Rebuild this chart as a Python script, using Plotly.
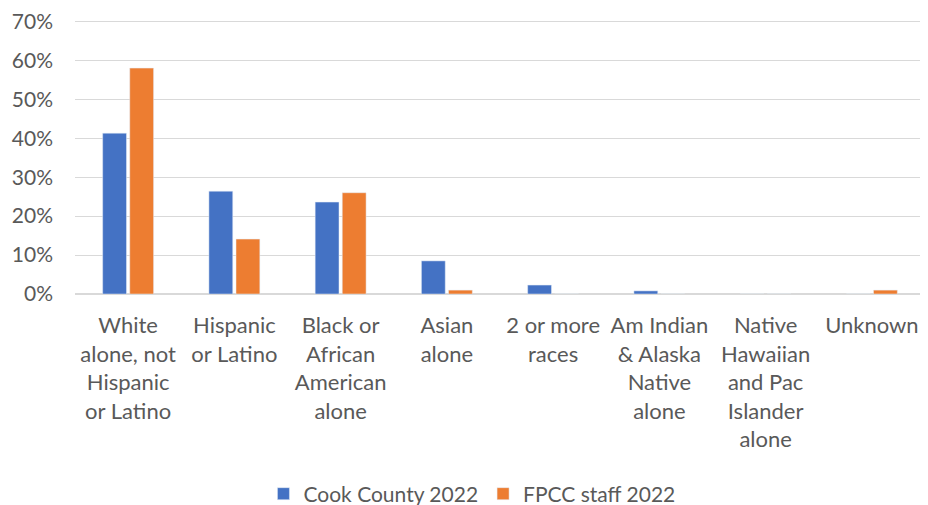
import plotly.graph_objects as go

categories = [
    "White<br>alone, not<br>Hispanic<br>or Latino",
    "Hispanic<br>or Latino",
    "Black or<br>African<br>American<br>alone",
    "Asian<br>alone",
    "2 or more<br>races",
    "Am Indian<br>& Alaska<br>Native<br>alone",
    "Native<br>Hawaiian<br>and Pac<br>Islander<br>alone",
    "Unknown",
]
cook_county_2022 = [0.413, 0.264, 0.236, 0.085, 0.023, 0.008, 0.0, 0.0]
fpcc_staff_2022 = [0.580, 0.141, 0.260, 0.010, 0.0, 0.0, 0.0, 0.010]
y_ticks = [0, 0.1, 0.2, 0.3, 0.4, 0.5, 0.6, 0.7]
y_tick_labels = ["0%", "10%", "20%", "30%", "40%", "50%", "60%", "70%"]

font_family = "Lato, Carlito, Calibri, sans-serif"
gray = "#595959"

fig = go.Figure()
fig.add_trace(go.Bar(x=categories, y=cook_county_2022, name="Cook County 2022",
                     marker=dict(color="#4472C4")))
fig.add_trace(go.Bar(x=categories, y=fpcc_staff_2022, name="FPCC staff 2022",
                     marker=dict(color="#ED7D31")))

fig.update_layout(
    width=928, height=505,
    margin=dict(l=67, r=11, t=12, b=219, autoexpand=False),
    paper_bgcolor="white", plot_bgcolor="white",
    barmode="group", bargap=0.49, bargroupgap=0.12,
    font=dict(family=font_family, size=22, color=gray),
    showlegend=True,
    legend=dict(orientation="h", x=0.467, xanchor="center", y=-0.73, yanchor="middle",
                font=dict(size=21, color=gray), traceorder="normal",
                itemwidth=30),
    xaxis=dict(showgrid=False, showline=False, ticks="", tickangle=0, automargin=False,
               ticklabelstandoff=16, tickfont=dict(size=22, color=gray)),
    yaxis=dict(range=[0, 0.7035], tickmode="array", tickvals=y_ticks, ticktext=y_tick_labels,
               showgrid=True, automargin=False, ticklabeloverflow="allow",
               gridcolor="#D9D9D9", gridwidth=1, zeroline=True, zerolinecolor="#D9D9D9",
               zerolinewidth=1.5, showline=False, ticks="", ticklabelstandoff=21,
               tickfont=dict(size=21, color=gray)),
)

fig.write_html("out.html")
